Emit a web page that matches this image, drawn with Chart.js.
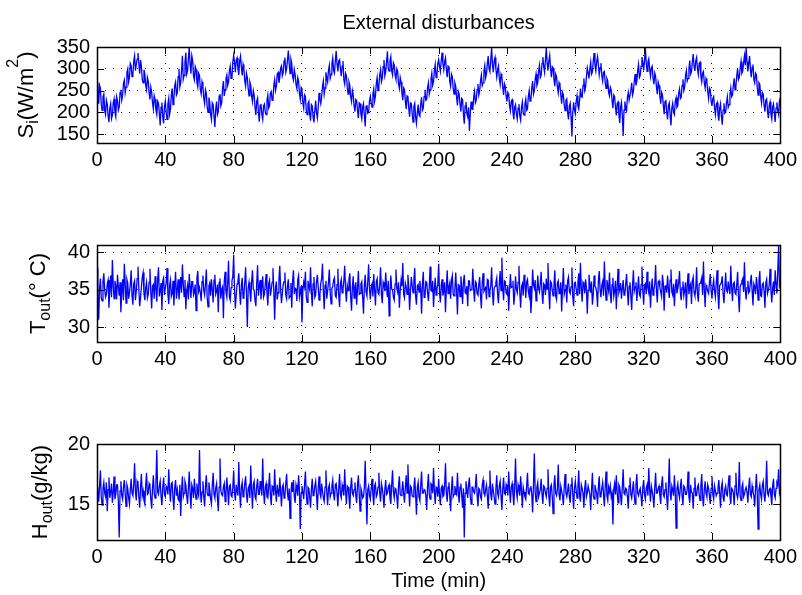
<!DOCTYPE html>
<html>
<head>
<meta charset="utf-8">
<script src="https://cdn.jsdelivr.net/npm/chart.js@4.4.1/dist/chart.umd.min.js"></script>
<style>
  html, body { margin: 0; padding: 0; background: #fff; }
  #fig { position: relative; width: 802px; height: 595px; background: #fff; }
  #fig canvas { position: absolute; left: 0; }
</style>
</head>
<body>
<div id="fig">
  <canvas id="cSi" width="802" height="180" style="top:0px"></canvas>
  <canvas id="cTout" width="802" height="180" style="top:200px"></canvas>
  <canvas id="cHout" width="802" height="195" style="top:400px"></canvas>
</div>
<script>
// sample step of the recorded disturbances (min)
const dtMin = 0.5;
const timeTicks = [0, 40, 80, 120, 160, 200, 240, 280, 320, 360, 400];
const siTicks = [150, 200, 250, 300, 350];
const toutTicks = [30, 35, 40];
const houtTicks = [15, 20];

// solar radiation S_i (W/m2), two values per minute
const S_i = [
  268,238,220,262,255,218,205,236,242,204,195,228,219,192,178,210,220,186,194,222,231,200,190,236,227,205,212,246,252,228,240,266,274,245,258,292,300,270,280,312,
  307,282,286,318,330,296,310,322,336,312,289,320,305,275,268,298,288,262,252,280,272,245,230,258,246,222,208,238,230,205,195,226,221,198,170,212,223,190,175,214,
  226,200,184,220,233,196,207,240,255,218,230,262,270,240,245,282,300,258,268,296,330,276,285,316,337,288,296,324,350,310,289,330,319,284,275,305,298,268,258,290,
  285,252,242,270,260,232,220,252,244,212,200,234,223,196,184,222,218,190,167,208,225,195,202,238,242,215,222,256,272,238,252,278,286,262,270,296,306,278,280,315,
  331,315,292,320,325,300,286,318,329,305,285,310,300,272,260,290,280,255,238,270,262,238,225,250,240,212,194,226,233,200,179,216,220,196,184,215,219,200,195,228,
  240,210,215,244,248,228,232,262,275,250,260,288,292,268,280,302,307,284,291,318,326,292,300,320,342,312,289,322,313,282,274,298,286,264,255,280,272,244,230,256,
  250,222,210,240,236,205,195,220,225,196,181,218,215,190,177,205,227,200,187,212,245,230,220,236,260,272,242,256,292,280,270,296,308,278,287,312,325,296,290,318,
  341,312,294,318,321,300,283,306,318,275,265,290,284,258,242,270,262,236,225,250,240,215,202,230,227,205,187,222,220,196,185,212,220,194,168,214,217,198,200,226,
  237,222,212,242,254,226,238,266,280,250,260,286,298,270,278,305,320,284,293,316,340,300,295,318,328,296,286,314,309,285,276,300,294,266,255,280,270,244,228,256,
  252,226,208,238,236,210,190,222,221,198,178,214,221,190,175,200,218,194,191,220,235,205,210,236,252,228,230,256,268,242,252,276,290,262,270,296,310,280,287,312,
  321,305,294,318,337,312,298,316,325,300,281,306,304,270,260,288,282,255,242,268,260,235,216,248,242,220,202,232,229,196,174,215,224,198,190,212,158,196,225,208,
  207,235,248,222,228,252,265,240,250,272,286,262,268,295,308,280,289,312,329,300,294,320,348,310,292,318,326,300,281,296,306,278,264,288,282,258,240,266,260,236,
  225,246,242,215,204,226,229,200,184,212,218,196,185,210,219,192,182,212,224,198,194,220,231,205,208,236,250,226,228,256,272,242,250,276,288,262,268,294,308,280,
  285,312,327,305,292,320,349,314,296,318,331,300,281,305,302,276,260,288,282,258,245,268,262,240,220,246,240,218,204,228,231,200,184,215,221,190,145,200,223,206,
  197,225,238,215,208,228,255,236,235,262,278,250,258,282,302,290,278,300,315,288,293,318,336,308,295,316,328,310,286,302,313,285,272,292,294,268,255,278,272,246,
  238,258,252,228,210,240,236,212,193,220,224,196,176,212,223,194,146,205,225,210,204,235,246,228,228,250,268,240,248,272,288,262,272,296,310,280,285,306,327,315,
  296,318,349,314,294,316,323,300,283,302,306,278,265,290,282,258,242,270,262,238,220,246,240,218,196,225,229,200,184,216,222,194,170,210,221,200,195,226,234,212,
  216,244,254,232,235,262,276,250,258,284,296,272,278,300,319,288,293,315,334,306,295,318,326,300,287,312,315,282,270,290,294,268,256,278,272,248,232,256,252,226,
  215,232,236,210,195,218,223,196,181,210,220,192,172,205,221,198,200,222,236,212,218,240,256,236,240,262,278,252,260,284,300,275,280,302,317,290,295,314,330,308,
  348,316,294,312,329,300,281,304,310,276,268,290,286,258,240,268,264,238,222,246,242,216,202,228,231,204,187,216,224,196,185,212,219,198,178,210,223,204,195,226,217
];

// outside temperature T_out (deg C)
const T_out = [
  38.0,34.5,31.0,35.2,36.5,33.9,33.5,36.1,37.2,35.0,34.0,34.4,35.8,36.3,32.6,35.1,36.9,34.0,39.0,35.6,33.8,36.2,35.5,33.7,37.0,35.4,34.2,36.0,32.0,34.8,36.4,33.6,38.5,35.9,33.2,36.4,35.9,33.8,34.6,35.7,
  37.6,34.2,33.0,35.8,36.2,33.6,34.8,36.5,38.1,35.1,32.8,34.0,35.4,36.7,37.3,34.5,33.6,35.3,36.0,33.9,34.4,36.0,37.8,34.7,32.5,35.5,35.7,33.8,36.8,35.2,33.4,36.4,38.0,34.1,34.9,35.9,32.3,36.2,36.6,34.3,
  35.2,36.0,37.9,34.4,33.1,35.6,36.3,34.1,34.5,36.2,32.9,35.4,37.4,33.8,35.0,36.4,33.7,35.2,36.7,34.6,38.4,35.8,34.1,36.3,32.4,34.9,35.6,33.7,37.1,35.5,33.9,36.1,36.1,34.3,34.7,35.7,32.2,36.6,37.5,34.8,
  35.3,34.6,33.5,36.1,36.9,34.9,34.3,35.8,37.7,33.9,32.7,35.5,35.9,34.2,36.4,35.0,33.3,36.3,37.0,34.4,34.8,35.7,32.0,36.0,36.5,33.8,35.1,35.4,31.2,36.2,37.4,34.7,34.0,35.9,38.9,34.1,33.6,35.3,36.2,36.8,
  39.7,35.0,32.5,34.3,35.8,36.2,37.2,34.7,33.0,35.6,36.6,33.9,34.2,36.1,38.0,34.5,30.0,35.2,36.0,34.8,33.4,36.0,37.6,35.1,34.9,33.6,32.8,35.9,38.3,34.2,35.5,36.3,33.7,35.4,36.8,34.0,34.4,35.7,37.1,34.6,
  32.9,35.8,36.3,34.2,35.0,36.0,37.9,34.8,31.0,35.3,36.1,33.7,34.6,36.4,38.2,35.0,33.2,34.5,35.7,36.1,37.3,34.3,33.8,35.6,36.4,33.9,34.1,35.9,32.6,36.2,37.6,34.4,35.2,35.1,33.5,36.3,36.9,34.0,34.7,35.5,
  30.6,34.9,36.0,35.4,37.4,34.1,33.3,36.2,35.5,35.0,38.0,34.6,32.8,35.8,36.7,34.0,34.3,36.1,37.0,35.3,33.6,34.4,35.9,36.5,38.5,34.8,32.4,35.6,36.2,33.8,34.8,36.0,37.7,34.7,33.1,35.2,35.4,36.3,36.6,34.2,
  34.0,35.7,37.8,34.3,32.7,35.9,36.4,34.6,35.1,36.2,38.2,35.0,33.4,35.6,34.9,36.4,37.2,34.1,32.2,35.4,36.8,33.9,35.3,36.0,33.0,35.2,37.5,34.4,34.5,35.8,36.1,34.0,31.8,35.5,37.0,34.7,34.2,36.1,38.4,35.1,
  33.7,35.4,35.8,34.1,37.1,35.0,32.9,36.1,36.5,34.6,34.4,35.7,38.0,34.3,33.2,36.0,35.6,34.8,37.3,35.3,34.0,36.2,31.5,34.5,36.9,35.1,35.0,34.0,33.6,35.8,37.7,35.2,34.7,36.0,32.6,34.9,36.3,35.5,38.6,34.4,
  33.9,35.9,35.4,34.4,37.0,35.3,32.3,34.8,36.7,35.6,34.6,36.3,37.9,34.2,33.0,35.5,35.7,34.7,36.2,35.1,31.8,35.8,37.4,34.0,34.1,36.1,36.0,34.6,33.5,35.4,38.1,34.9,34.8,36.2,32.7,35.0,36.6,34.3,35.2,35.7,
  38.5,34.7,33.3,35.6,36.4,34.2,34.9,36.0,32.0,35.1,37.6,34.5,35.3,35.9,33.8,36.3,36.9,34.4,34.2,35.2,37.3,34.8,31.7,35.7,35.6,34.1,36.8,35.4,33.1,36.1,37.0,34.6,34.5,35.5,32.8,36.2,36.2,34.9,35.0,35.3,
  37.8,35.0,33.4,36.1,35.9,34.5,34.3,35.7,36.7,34.2,32.5,35.9,37.2,34.8,35.1,35.3,33.7,36.4,36.3,34.1,34.8,35.6,38.0,34.7,32.9,35.2,35.5,36.0,36.6,34.4,33.2,35.8,37.5,34.9,39.3,35.4,33.6,36.2,36.1,34.6,
  34.4,35.6,32.2,34.9,37.1,35.3,35.4,36.2,33.0,34.3,36.8,35.1,34.6,36.0,38.2,34.6,32.6,35.4,35.8,34.2,37.0,35.9,33.9,36.1,36.4,34.8,34.1,35.5,31.9,34.0,37.7,35.7,35.2,36.3,33.5,34.5,36.9,35.2,34.7,35.8,
  37.4,34.6,33.1,35.8,35.6,34.3,36.5,35.1,38.6,34.7,32.4,36.1,35.9,34.9,34.2,35.6,37.6,34.2,33.7,35.9,36.2,34.5,34.9,36.0,32.1,35.3,37.9,34.4,35.0,35.7,33.3,36.2,36.7,34.8,34.5,35.4,38.0,34.1,32.8,35.9,
  36.0,35.1,34.3,35.9,37.2,34.4,38.6,35.2,33.4,36.0,35.7,34.5,36.4,35.3,31.8,34.9,37.0,35.8,34.6,36.1,33.0,34.3,36.9,35.5,35.3,34.7,32.7,36.2,37.5,35.0,34.0,35.6,36.1,34.2,38.8,35.4,33.6,36.3,35.5,34.8,
  37.3,34.5,33.2,35.7,36.6,34.1,34.8,36.2,32.4,35.4,37.8,34.6,35.1,35.9,33.8,35.2,36.3,34.3,34.4,35.8,37.1,34.9,32.9,35.5,36.0,34.2,32.3,35.6,37.6,34.8,35.4,36.0,33.5,35.1,36.8,34.4,34.1,35.7,38.1,34.9,
  33.0,35.6,35.8,34.4,37.4,35.2,34.6,36.1,32.6,35.0,36.5,34.3,35.0,35.7,38.3,34.8,33.3,36.0,36.2,35.3,34.7,34.1,37.0,35.9,32.2,35.5,35.6,34.6,36.9,35.1,33.9,36.3,37.7,34.7,34.3,35.8,32.8,35.2,36.4,34.5,
  35.2,35.9,37.5,34.6,33.6,35.3,36.1,34.2,34.9,36.0,32.5,35.5,37.2,34.4,35.5,35.8,33.1,36.2,36.7,34.7,34.2,35.1,38.0,34.5,33.4,35.7,35.9,36.1,36.6,34.3,38.8,35.0,32.7,35.6,35.3,34.8,34.5,35.9,37.1,34.9,
  33.8,35.5,36.3,34.8,34.0,35.9,37.6,34.3,32.4,35.6,35.7,36.0,36.8,34.5,33.2,35.2,37.3,34.9,34.7,36.1,35.1,34.4,38.2,35.3,33.5,35.8,36.0,34.6,34.4,35.7,37.4,34.2,32.0,35.4,35.8,36.2,36.5,34.7,38.7,35.0,
  33.7,35.3,36.2,34.6,34.8,36.0,37.0,34.9,32.9,35.8,35.4,34.4,36.7,35.5,33.6,36.3,37.5,34.2,34.1,35.7,35.9,34.8,32.6,35.9,36.4,34.5,35.0,35.6,37.8,34.9,33.3,35.2,36.1,34.3,37.6,35.8,34.5,37.5,41.0,35.5,36.0
];

// outside humidity H_out (g/kg)
const H_out = [
  16.4,15.8,15.2,16.5,17.8,15.6,14.9,16.3,16.8,15.9,15.6,16.8,14.4,16.2,17.2,15.5,16.0,16.7,15.1,16.0,17.3,15.4,15.8,16.6,16.6,15.2,12.2,16.1,16.9,15.7,15.4,16.4,17.0,15.9,14.8,16.6,16.3,15.5,15.0,16.2,
  17.1,15.9,15.7,16.6,18.4,16.0,15.3,16.9,16.7,15.6,14.7,16.4,17.5,15.7,16.1,15.3,15.0,16.5,17.6,15.8,15.9,16.7,16.5,15.4,14.6,16.3,17.4,15.9,15.5,16.8,19.5,16.0,15.8,16.5,16.9,15.6,14.9,16.4,17.2,15.8,
  15.6,16.5,16.4,15.8,17.9,16.2,15.2,16.7,16.8,15.5,14.5,16.4,17.0,15.7,16.2,15.4,15.3,16.6,14.0,16.1,17.3,15.6,15.9,16.9,16.6,15.7,15.0,16.3,17.7,15.9,14.6,16.6,16.3,15.5,17.1,16.0,15.4,16.7,16.0,15.7,
  19.5,16.2,15.1,16.0,16.9,15.6,14.8,16.5,17.4,15.9,15.7,16.8,16.2,15.4,15.0,16.6,17.6,15.8,15.5,16.3,16.7,15.5,14.4,16.4,18.8,16.1,15.8,15.7,16.4,16.7,15.2,15.9,17.2,16.2,14.9,16.5,16.6,15.7,15.6,16.4,
  17.8,15.9,15.3,16.6,16.1,15.7,18.5,16.0,14.7,16.4,16.8,15.6,15.9,16.7,17.3,15.8,15.1,16.3,16.5,15.5,18.2,16.2,14.6,16.6,16.9,15.6,15.4,16.5,17.1,15.8,15.8,16.9,16.3,15.7,18.8,16.1,15.0,16.4,16.7,15.6,
  15.5,16.4,17.6,15.8,14.9,16.5,16.4,15.7,17.9,16.1,15.2,16.6,16.0,15.6,17.2,16.0,14.8,16.4,16.6,15.5,15.7,16.7,17.5,15.9,15.3,16.3,13.8,15.8,16.8,16.0,17.0,15.6,15.1,16.6,16.2,15.7,17.4,16.2,12.9,15.9,
  16.5,16.0,15.4,16.6,17.7,15.9,15.0,16.4,16.3,15.6,14.7,16.2,17.1,15.7,15.8,16.5,16.9,15.8,14.5,16.3,17.3,15.9,15.6,16.7,16.1,15.5,15.2,16.4,17.8,16.0,14.9,16.3,16.6,15.6,15.9,16.5,17.0,15.8,15.3,16.6,
  16.7,15.9,14.8,16.3,17.5,15.8,15.5,16.6,16.2,15.7,17.9,16.1,15.0,16.5,16.4,15.6,14.6,16.4,17.2,15.9,15.7,16.2,16.8,15.7,15.1,16.6,17.4,15.8,14.4,16.3,16.0,15.5,15.6,16.4,18.6,15.9,13.3,16.2,16.5,15.7,
  15.4,16.3,17.1,15.8,14.9,16.5,16.7,15.6,15.8,16.4,17.6,15.9,15.2,16.7,16.3,15.7,14.7,16.2,17.0,15.8,15.9,16.4,16.6,15.5,15.0,16.6,17.8,16.0,15.5,16.3,16.2,15.6,14.6,16.5,17.3,15.8,15.7,16.1,16.9,15.9,
  15.1,16.4,17.4,15.9,18.3,16.2,14.8,16.5,16.4,15.7,15.6,16.3,17.2,15.8,14.1,16.4,16.8,15.6,15.3,16.6,17.7,15.9,15.9,16.2,16.1,15.7,14.5,16.5,17.5,15.8,15.4,16.7,16.6,15.9,18.0,16.1,15.0,16.4,16.3,15.6,
  17.1,15.8,14.9,16.3,16.5,15.6,15.7,16.6,18.4,15.9,15.2,16.4,16.8,15.7,14.4,16.2,17.3,15.6,15.8,16.5,16.0,15.8,17.6,16.0,15.1,16.4,16.7,15.7,14.7,16.3,12.2,15.9,16.9,16.2,15.5,16.6,17.2,15.7,15.0,16.4,
  16.4,16.0,15.9,16.5,17.5,15.8,14.8,16.3,16.2,15.6,15.4,16.6,17.0,15.9,15.7,16.2,16.6,15.7,14.6,16.4,17.8,15.8,15.3,16.7,16.1,15.6,15.0,16.3,17.4,15.9,15.6,16.5,16.9,15.7,14.5,16.2,17.2,15.9,15.8,16.6,
  16.3,15.7,17.7,16.2,15.1,16.4,16.7,15.8,14.9,16.5,18.8,16.0,15.5,16.6,16.2,15.7,17.3,16.1,14.7,16.4,16.0,15.6,15.4,16.5,17.6,15.9,15.8,16.3,16.5,15.8,14.3,16.6,19.2,16.0,15.2,16.4,16.8,15.6,15.9,16.2,
  17.1,15.8,15.0,16.5,16.4,15.9,15.6,16.3,17.9,15.7,14.8,16.4,16.6,15.6,14.2,16.6,17.4,15.9,15.7,16.2,18.3,15.8,15.3,16.5,16.1,15.7,14.9,16.4,17.5,15.9,15.6,16.1,16.7,15.6,15.1,16.6,17.2,15.8,14.6,16.3,
  16.9,16.1,15.5,16.4,17.8,15.7,15.2,16.6,16.3,15.9,14.7,16.3,17.0,15.6,15.9,16.5,16.5,15.8,14.5,16.2,17.6,15.7,15.4,16.6,16.2,15.9,15.0,16.4,17.3,15.6,15.7,16.3,16.8,15.8,14.8,16.5,17.7,15.7,15.3,16.4,
  16.0,16.5,15.6,15.9,13.3,16.2,16.7,15.8,17.4,16.0,15.1,16.6,16.4,15.7,14.9,16.4,17.9,15.9,15.8,16.3,16.2,15.6,14.6,16.5,17.2,15.8,15.5,16.2,16.9,15.7,15.0,16.6,17.5,15.9,15.7,16.1,16.3,15.6,14.8,16.4,
  17.0,15.8,15.4,16.3,16.6,15.7,18.0,16.2,15.2,16.5,16.1,15.6,14.7,16.4,17.6,15.9,15.9,16.3,16.5,15.7,15.0,16.6,17.3,15.8,15.6,16.2,16.8,15.6,14.5,16.4,18.8,16.0,15.3,16.5,16.2,15.7,17.4,16.0,13.0,16.3,
  16.7,15.9,15.5,16.4,17.1,15.7,14.9,16.5,16.4,15.8,15.8,16.2,17.7,15.6,15.1,16.6,16.0,15.9,14.6,16.3,17.2,15.7,15.7,16.4,16.6,15.8,15.3,16.5,17.5,15.6,14.8,16.2,16.9,15.9,15.6,16.6,16.3,15.7,15.0,16.3,
  17.3,15.8,15.4,16.5,16.1,15.7,15.9,16.3,17.0,15.9,14.7,16.4,16.8,15.6,15.2,16.2,16.5,15.8,15.7,16.6,17.4,15.7,15.0,16.3,16.2,15.9,14.9,16.5,17.6,15.8,15.5,16.1,18.5,15.7,15.3,16.4,16.7,15.6,15.8,16.2,
  16.4,16.0,15.1,16.4,17.2,15.8,15.6,16.5,16.0,15.7,14.8,16.3,17.5,15.9,12.9,16.2,16.6,15.8,15.4,16.6,16.9,15.7,15.2,16.4,18.6,15.9,15.7,16.2,16.3,15.7,14.9,16.5,17.1,15.8,15.5,16.3,16.8,16.6,17.9,15.9,16.2
];

const FONT = "'Liberation Sans', Arial, Helvetica, sans-serif";
const TICK_LEN = 7;

Chart.defaults.font.family = FONT;
Chart.defaults.color = '#000';

// black box + inward tick marks on all four sides, like matlab axes
const frameBox = {
  id: 'frameBox',
  afterDatasetsDraw(chart) {
    const { ctx, chartArea: a, scales: { x, y } } = chart;
    ctx.save();
    ctx.strokeStyle = '#000';
    ctx.lineWidth = 1;
    ctx.beginPath();
    x.ticks.forEach(t => {
      const px = Math.round(x.getPixelForValue(t.value)) + 0.5;
      ctx.moveTo(px, a.bottom); ctx.lineTo(px, a.bottom - TICK_LEN);
      ctx.moveTo(px, a.top); ctx.lineTo(px, a.top + TICK_LEN);
    });
    y.ticks.forEach(t => {
      const py = Math.round(y.getPixelForValue(t.value)) + 0.5;
      ctx.moveTo(a.left, py); ctx.lineTo(a.left + TICK_LEN, py);
      ctx.moveTo(a.right, py); ctx.lineTo(a.right - TICK_LEN, py);
    });
    ctx.stroke();
    ctx.lineWidth = 1.5;
    ctx.strokeRect(Math.round(a.left) + 0.5, Math.round(a.top) + 0.5,
      Math.round(a.right - a.left), Math.round(a.bottom - a.top));
    ctx.restore();
  }
};

// rotated y label with sub/superscripts
const yLabel = {
  id: 'yLabel',
  afterDraw(chart, args, opts) {
    if (!opts.parts) return;
    const { ctx, chartArea: a } = chart;
    const fontOf = p => ((p.sub || p.sup) ? 16 : 22) + 'px ' + FONT;
    ctx.save();
    ctx.fillStyle = '#000';
    ctx.textBaseline = 'alphabetic';
    ctx.textAlign = 'left';
    let total = 0;
    opts.parts.forEach(p => { ctx.font = fontOf(p); total += ctx.measureText(p.t).width; });
    ctx.translate(opts.x, (a.top + a.bottom) / 2);
    ctx.rotate(-Math.PI / 2);
    let pos = -total / 2;
    opts.parts.forEach(p => {
      ctx.font = fontOf(p);
      const shift = p.sub ? 5 : (p.sup ? -15 : 0);
      ctx.fillText(p.t, pos, shift);
      pos += ctx.measureText(p.t).width;
    });
    ctx.restore();
  }
};

const makeChart = (id, values, cfg) => {
  const points = values.map((v, i) => ({ x: i * dtMin, y: v }));
  return new Chart(document.getElementById(id), {
    type: 'line',
    data: {
      datasets: [{
        data: points,
        borderColor: '#0000ff',
        borderWidth: 1.3,
        pointRadius: 0,
        tension: 0,
        fill: false
      }]
    },
    options: {
      responsive: false,
      animation: false,
      devicePixelRatio: 1,
      events: [],
      parsing: false,
      layout: { padding: { top: cfg.padTop, right: 20, left: 0, bottom: 0 } },
      plugins: {
        legend: { display: false },
        tooltip: { enabled: false },
        title: cfg.title ? {
          display: true,
          text: cfg.title,
          fullSize: false,
          color: '#000',
          font: { size: 20, weight: 'normal' },
          padding: { top: 11, bottom: 12 }
        } : { display: false },
        yLabel: { parts: cfg.ylab, x: cfg.ylabX }
      },
      scales: {
        x: {
          type: 'linear',
          min: 0, max: 400,
          afterBuildTicks: s => { s.ticks = timeTicks.map(v => ({ value: v })); },
          afterFit: s => { s.height = cfg.xHeight; },
          ticks: { font: { size: 20 }, padding: 5, maxRotation: 0, autoSkip: false, color: '#000' },
          grid: { color: '#000', drawTicks: false, lineWidth: 1 },
          border: { display: false, dash: [1, 7] },
          title: cfg.xTitle ? {
            display: true, text: cfg.xTitle, color: '#000',
            font: { size: 20 }, padding: { top: 0, bottom: 2 }
          } : { display: false }
        },
        y: {
          type: 'linear',
          min: cfg.yMin, max: cfg.yMax,
          afterBuildTicks: s => { s.ticks = cfg.yTicks.map(v => ({ value: v })); },
          afterFit: s => { s.width = 97; },
          ticks: { autoSkip: false, font: { size: 20 }, padding: 7, color: '#000' },
          grid: { color: '#000', drawTicks: false, lineWidth: 1 },
          border: { display: false, dash: [1, 7] }
        }
      }
    },
    plugins: [frameBox, yLabel]
  });
};

makeChart('cSi', S_i, {
  title: 'External disturbances',
  padTop: 0, xHeight: 37,
  yMin: 130, yMax: 350, yTicks: siTicks,
  ylabX: 33,
  ylab: [{ t: 'S' }, { t: 'i', sub: true }, { t: '(W/m' }, { t: '2', sup: true }, { t: ')' }]
});

makeChart('cTout', T_out, {
  padTop: 45, xHeight: 38,
  yMin: 28, yMax: 41, yTicks: toutTicks,
  ylabX: 45,
  ylab: [{ t: 'T' }, { t: 'out', sub: true }, { t: '(° C)' }]
});

makeChart('cHout', H_out, {
  padTop: 44, xHeight: 55,
  yMin: 12, yMax: 20, yTicks: houtTicks,
  ylabX: 47,
  xTitle: 'Time (min)',
  ylab: [{ t: 'H' }, { t: 'out', sub: true }, { t: '(g/kg)' }]
});
</script>
</body>
</html>
